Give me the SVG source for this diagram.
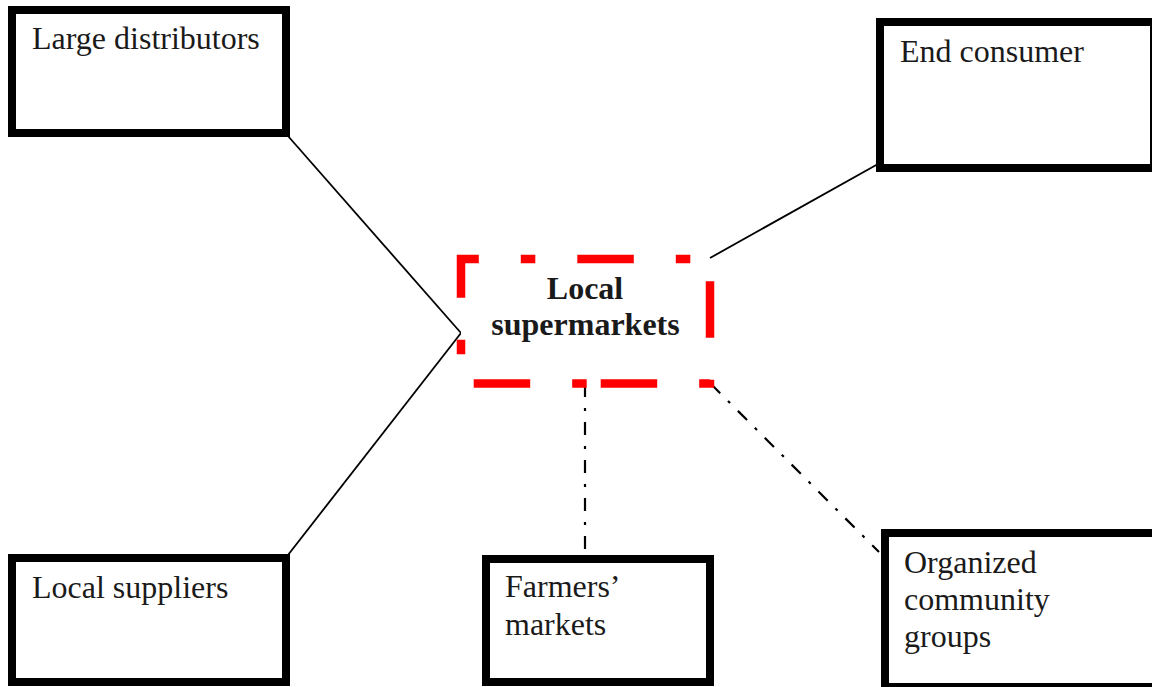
<svg xmlns="http://www.w3.org/2000/svg" width="1152" height="687" viewBox="0 0 1152 687">
<style>
.box{fill:#fff;stroke:#000;stroke-width:8}
.lbl{font-family:"Liberation Serif","Times New Roman",serif;font-size:32px;fill:#1a1a1a}
.bold{font-weight:bold;text-anchor:middle}
.solid{stroke:#000;stroke-width:1.8;fill:none}
.dashdot{stroke:#000;stroke-width:2.2;fill:none;stroke-dasharray:13 11 3 11}
.center{fill:#fff;stroke:#ff0000;stroke-width:8.5;stroke-dasharray:56.5 42 14.5 42}
</style>
<rect width="1152" height="687" fill="#fff"/>
<g id="connectors">
<line class="solid" x1="288" y1="136" x2="461" y2="333"/>
<line class="solid" x1="288" y1="555" x2="461" y2="333"/>
<line class="solid" x1="710" y1="258" x2="878" y2="164"/>
<line class="dashdot" x1="585" y1="384" x2="585" y2="556"/>
<line class="dashdot" x1="711" y1="384" x2="879" y2="552"/>
</g>
<g id="large-distributors">
<rect class="box" x="12" y="10" width="274" height="123"/>
<text class="lbl" x="32" y="49">Large distributors</text>
</g>
<g id="end-consumer">
<rect class="box" x="880" y="22" width="274" height="146"/>
<text class="lbl" x="900" y="62">End consumer</text>
</g>
<g id="local-suppliers">
<rect class="box" x="12" y="558" width="274" height="124"/>
<text class="lbl" x="32" y="598">Local suppliers</text>
</g>
<g id="farmers-markets">
<rect class="box" x="486" y="559" width="224" height="123"/>
<text class="lbl" x="505" y="597">Farmers’</text>
<text class="lbl" x="505" y="635">markets</text>
</g>
<g id="organized-community-groups">
<rect class="box" x="885" y="533" width="274" height="154"/>
<text class="lbl" x="904" y="573">Organized</text>
<text class="lbl" x="904" y="610">community</text>
<text class="lbl" x="904" y="647">groups</text>
</g>
<g id="local-supermarkets">
<path class="center" d="M600.7 383.5 H710 V259 H461 V383.5 H600.7"/>
<text class="lbl bold" x="585" y="299">Local</text>
<text class="lbl bold" x="585.5" y="335">supermarkets</text>
</g>
</svg>
